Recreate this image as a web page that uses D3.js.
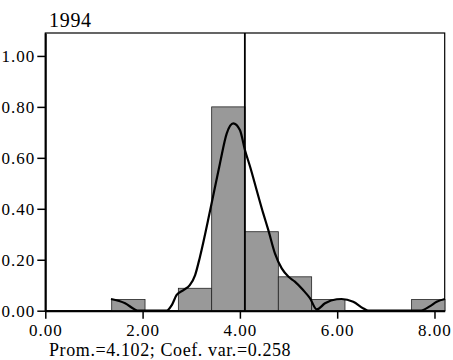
<!DOCTYPE html>
<html>
<head>
<meta charset="utf-8">
<script src="https://cdn.jsdelivr.net/npm/d3@7"></script>
<style>
  body { margin: 0; background: #fff; }
  svg text { font-family: "Liberation Serif", "DejaVu Serif", serif; fill: #000; }
</style>
</head>
<body>
<div class="chart"></div>
<script>
var width = 453, height = 360;

// histogram bins (edges) and bar heights
var binEdges = [1.365, 2.05, 2.735, 3.42, 4.105, 4.79, 5.475, 6.16, 6.845, 7.53, 8.215];
var barHeights = [0.044, 0, 0.088, 0.80, 0.31, 0.133, 0.044, 0, 0, 0.044];

// smoothed density curve
var curveX = [1.35, 1.64, 1.84, 1.905, 2.495, 2.6, 2.7, 2.84, 2.97, 3.08, 3.18, 3.39, 3.59, 3.73, 3.864,
              4.0, 4.105, 4.21, 4.345, 4.48, 4.585, 4.72, 4.86, 5.0, 5.13, 5.3, 5.44, 5.58, 5.75, 5.99,
              6.09, 6.33, 6.54, 6.64, 7.70, 7.91, 8.045, 8.216];
var curveY = [0.046, 0.029, 0.005, 0, 0, 0.022, 0.062, 0.081, 0.10, 0.14, 0.212, 0.395, 0.578, 0.696, 0.735,
              0.709, 0.63, 0.565, 0.473, 0.382, 0.316, 0.225, 0.166, 0.133, 0.114, 0.081, 0.049, 0.005, 0.029, 0.045,
              0.046, 0.035, 0.009, 0, 0, 0.018, 0.035, 0.046];

var mean = 4.102;
var xTicks = [0, 2, 4, 6, 8];
var yTicks = [0, 0.2, 0.4, 0.6, 0.8, 1.0];
var title = "1994";
var footer = "Prom.=4.102; Coef. var.=0.258";

var plotLeft = 45.3, plotRight = 444.7, plotTop = 33, plotBottom = 310.7;

var svg = d3.select(".chart")
            .append("svg")
            .attr("width", width)
            .attr("height", height);

var x = d3.scaleLinear().domain([0, 8.21]).range([plotLeft, plotRight]);
var y = d3.scaleLinear().domain([0, 1.09]).range([plotBottom, plotTop]);

// frame (top and right)
svg.append("rect")
   .attr("x", plotLeft).attr("y", plotTop)
   .attr("width", plotRight - plotLeft).attr("height", plotBottom - plotTop)
   .attr("fill", "none")
   .attr("stroke", "#000")
   .attr("stroke-width", 1.2);

// bars
var bins = barHeights.map(function(h, i) { return { x0: binEdges[i], x1: binEdges[i + 1], h: h }; });
svg.append("g").selectAll("rect")
   .data(bins.filter(function(d) { return d.h > 0; }))
   .enter().append("rect")
   .attr("x", function(d) { return x(d.x0); })
   .attr("y", function(d) { return y(d.h); })
   .attr("width", function(d) { return x(d.x1) - x(d.x0); })
   .attr("height", function(d) { return y(0) - y(d.h); })
   .attr("fill", "#999999")
   .attr("stroke", "#222")
   .attr("stroke-width", 0.8);

// density curve
var line = d3.line()
             .x(function(d, i) { return x(curveX[i]); })
             .y(function(d) { return y(d); })
             .curve(d3.curveMonotoneX);

svg.append("path")
   .attr("d", line(curveY))
   .attr("fill", "none")
   .attr("stroke", "#000")
   .attr("stroke-width", 2.2);

// mean line
svg.append("line")
   .attr("x1", x(mean)).attr("x2", x(mean))
   .attr("y1", plotTop).attr("y2", plotBottom)
   .attr("stroke", "#000")
   .attr("stroke-width", 1.8);

// axes
var yAxis = d3.axisLeft(y).tickValues(yTicks).tickFormat(d3.format(".2f")).tickSize(8).tickSizeOuter(0).tickPadding(2);
var xAxis = d3.axisBottom(x).tickValues(xTicks).tickFormat(d3.format(".2f")).tickSize(8).tickSizeOuter(0).tickPadding(5);

var gy = svg.append("g").attr("transform", "translate(" + plotLeft + ",0)").call(yAxis);
var gx = svg.append("g").attr("transform", "translate(0," + plotBottom + ")").call(xAxis);

[gx, gy].forEach(function(g) {
  g.selectAll("path.domain").attr("stroke", "#000").attr("stroke-width", 2);
  g.selectAll(".tick line").attr("stroke", "#000").attr("stroke-width", 1.5);
  g.selectAll(".tick text")
   .style("font-family", "Liberation Serif, serif")
   .style("font-size", "17px")
   .style("letter-spacing", "1px")
   .attr("fill", "#000");
});

svg.append("text")
   .attr("x", 49).attr("y", 27)
   .style("font-size", "20px")
   .style("letter-spacing", "0.7px")
   .text(title);

svg.append("text")
   .attr("x", 49).attr("y", 356)
   .style("font-size", "18px")
   .style("letter-spacing", "0.6px")
   .text(footer);
</script>
</body>
</html>
